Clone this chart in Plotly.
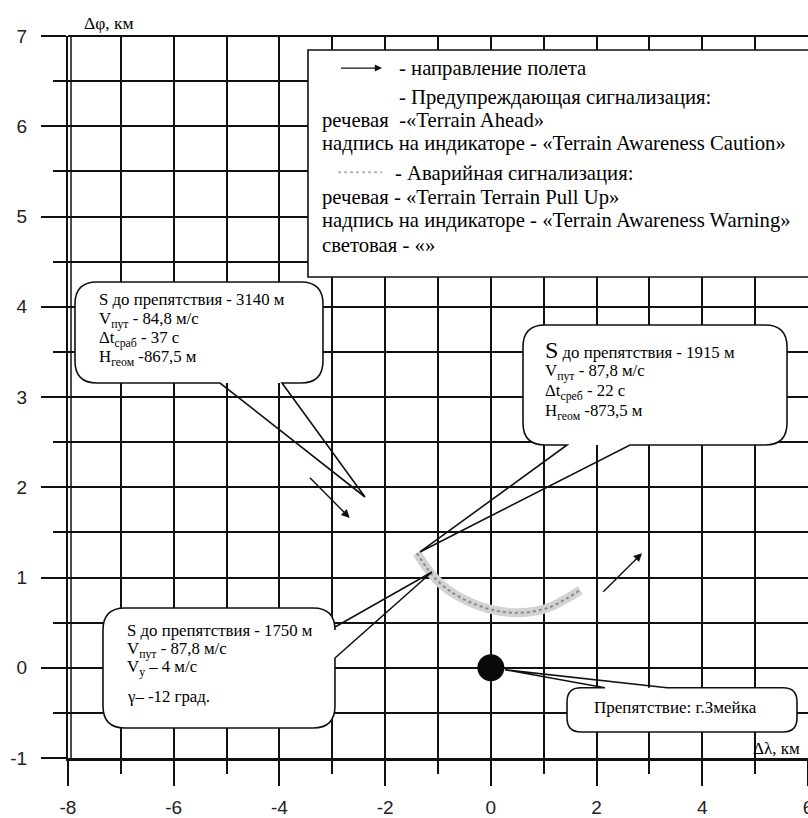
import plotly.graph_objects as go

# ---------------- data ----------------
traj_x = [-1.40, -1.02, -0.58, 0.04, 0.55, 1.06, 1.44, 1.69]
traj_y = [1.27, 0.97, 0.78, 0.64, 0.61, 0.66, 0.77, 0.86]

obstacle_x = [0.0]
obstacle_y = [0.0]

arrow_tail_x = [-3.48, 2.07]
arrow_tail_y = [2.14, 0.81]
arrow_head_x = [-2.67, 2.86]
arrow_head_y = [1.66, 1.27]

x_tick_vals = [-8, -6, -4, -2, 0, 2, 4, 6]
x_tick_text = ["-8", "-6", "-4", "-2", "0", "2", "4", "6"]
y_tick_vals = [-1, 0, 1, 2, 3, 4, 5, 6, 7]
y_tick_text = ["-1", "0", "1", "2", "3", "4", "5", "6", "7"]

callout1_lines = ["S до препятствия - 3140 м", "V<sub>пут</sub> - 84,8 м/с",
                  "Δt<sub>сраб</sub> - 37 с", "H<sub>геом</sub> -867,5 м"]
callout2_lines = ["<span style='font-size:24px'>S</span> до препятствия - 1915 м",
                  "V<sub>пут</sub> - 87,8 м/с", "Δt<sub>среб</sub> - 22 с",
                  "H<sub>геом</sub> -873,5 м"]
callout3_lines = ["S до препятствия - 1750 м", "V<sub>пут</sub> - 87,8 м/с",
                  "V<sub>у</sub> – 4 м/с", "γ– -12 град."]
obstacle_label = "Препятствие: г.Змейка"

legend_lines = [
    "- направление полета",
    "- Предупреждающая сигнализация:",
    "речевая  -«Terrain Ahead»",
    "надпись на индикаторе - «Terrain Awareness Caution»",
    "- Аварийная сигнализация:",
    "речевая - «Terrain Terrain Pull Up»",
    "надпись на индикаторе - «Terrain Awareness Warning»",
    "световая - «»",
]

# ---------------- layout constants ----------------
W, H = 808, 818
ML, MR, MT, MB = 68, 0, 36, 60
XR = [-8, 6]
YR = [-1, 7]
PXX = (W - ML - MR) / (XR[1] - XR[0])
PXY = (H - MT - MB) / (YR[1] - YR[0])

SERIF = "Liberation Serif, Times New Roman, serif"
SANS = "Liberation Sans, Arial, sans-serif"
INK = "#111111"

fig = go.Figure()

# trajectory (stippled grey band)
fig.add_trace(go.Scatter(x=traj_x, y=traj_y, mode="lines",
                         line=dict(color="#d2d2d2", width=9, shape="spline"),
                         hoverinfo="skip", showlegend=False))
fig.add_trace(go.Scatter(x=traj_x, y=traj_y, mode="lines",
                         line=dict(color="#8a8a8a", width=2, shape="spline", dash="dot"),
                         hoverinfo="skip", showlegend=False))
# obstacle
fig.add_trace(go.Scatter(x=obstacle_x, y=obstacle_y, mode="markers",
                         marker=dict(color="#0a0a0a", size=27),
                         hoverinfo="skip", showlegend=False))


def rr_path(x0, x1, y0, y1, r, tail=None):
    """Rounded rectangle (data coords); optional tail = (side, a, b, tipx, tipy)."""
    rx, ry = r / PXX, r / PXY
    p = [f"M{x0+rx},{y1}"]
    if tail and tail[0] == "top":
        a, b = sorted(tail[1:3])
        p += [f"L{a},{y1}", f"L{tail[3]},{tail[4]}", f"L{b},{y1}"]
    p += [f"L{x1-rx},{y1}", f"Q{x1},{y1} {x1},{y1-ry}"]
    if tail and tail[0] == "right":
        a, b = sorted(tail[1:3], reverse=True)
        p += [f"L{x1},{a}", f"L{tail[3]},{tail[4]}", f"L{x1},{b}"]
    p += [f"L{x1},{y0+ry}", f"Q{x1},{y0} {x1-rx},{y0}"]
    if tail and tail[0] == "bottom":
        a, b = sorted(tail[1:3], reverse=True)
        p += [f"L{a},{y0}", f"L{tail[3]},{tail[4]}", f"L{b},{y0}"]
    p += [f"L{x0+rx},{y0}", f"Q{x0},{y0} {x0},{y0+ry}",
          f"L{x0},{y1-ry}", f"Q{x0},{y1} {x0+rx},{y1}", "Z"]
    return " ".join(p)


shapes = []


def bubble(x0, x1, y0, y1, r, tail):
    shapes.append(dict(type="path", xref="x", yref="y", layer="above",
                       path=rr_path(x0, x1, y0, y1, r),
                       fillcolor="white", line=dict(width=0)))
    shapes.append(dict(type="path", xref="x", yref="y", layer="above",
                       path=rr_path(x0, x1, y0, y1, r, tail),
                       fillcolor="rgba(0,0,0,0)", line=dict(color=INK, width=1.6)))


# legend box
shapes.append(dict(type="rect", xref="x", yref="y", layer="above",
                   x0=-3.46, x1=6.3, y0=4.33, y1=6.845,
                   fillcolor="white", line=dict(color=INK, width=1.6)))
# grey symbol in legend
shapes.append(dict(type="line", xref="x", yref="y", layer="above",
                   x0=-2.89, x1=-2.06, y0=5.49, y1=5.49,
                   line=dict(color="#b5b5b5", width=2, dash="dot")))

bubble(-7.868, -3.176, 3.155, 4.274, 22, ("bottom", -5.124, -3.951, -2.381, 1.892))
bubble(0.608, 5.603, 2.468, 3.798, 22, ("bottom", 1.441, 2.632, -1.341, 1.283))
bubble(-7.338, -2.949, -0.668, 0.662, 22, ("right", 0.452, 0.108, -1.114, 1.061))
bubble(1.441, 5.792, -0.712, -0.222, 14, ("top", 2.159, 3.332, 0.267, -0.022))

# top border and double left axis line
shapes.append(dict(type="line", xref="paper", yref="paper", x0=0, x1=1, y0=1, y1=1,
                   line=dict(color=INK, width=2)))
shapes.append(dict(type="line", xref="x", yref="paper", xsizemode="pixel", xanchor=-8,
                   x0=3, x1=3, y0=0, y1=1, line=dict(color=INK, width=1.5)))

annotations = []


def txt(x, y, s, size, xanchor="left", xref="x", yref="y"):
    annotations.append(dict(x=x, y=y, xref=xref, yref=yref, text=s, showarrow=False,
                            xanchor=xanchor, yanchor="middle", align="left",
                            font=dict(family=SERIF, size=size, color="#000")))


# callout texts
for s, yy in zip(callout1_lines, [4.075, 3.853, 3.643, 3.432]):
    txt(-7.451, yy, s, 16.8)
for s, yy in zip(callout2_lines, [3.521, 3.277, 3.055, 2.834]):
    txt(0.987, yy, s, 16.8)
for s, yy in zip(callout3_lines, [0.418, 0.197, -0.003, -0.324]):
    txt(-6.922, yy, s, 16.8)
txt(3.50, -0.435, obstacle_label, 17, xanchor="center")

# legend texts
leg_x = [-1.776, -1.776, -3.232, -3.232, -1.85, -3.232, -3.232, -3.232]
leg_y = [6.645, 6.324, 6.069, 5.814, 5.482, 5.216, 4.961, 4.684]
for s, xx, yy in zip(legend_lines, leg_x, leg_y):
    txt(xx, yy, s, 20.7)

# legend arrow
annotations.append(dict(x=-2.06, y=6.645, ax=-2.892, ay=6.645, xref="x", yref="y",
                        axref="x", ayref="y", showarrow=True, arrowhead=2,
                        arrowsize=1.1, arrowwidth=1.3, arrowcolor=INK, text=" "))
# flight direction arrows
for tx, ty, hx, hy in zip(arrow_tail_x, arrow_tail_y, arrow_head_x, arrow_head_y):
    annotations.append(dict(x=hx, y=hy, ax=tx, ay=ty, xref="x", yref="y",
                            axref="x", ayref="y", showarrow=True, arrowhead=2,
                            arrowsize=1.2, arrowwidth=1.4, arrowcolor=INK, text=" "))

# axis titles
txt((82 - ML) / (W - ML - MR), 1.018, "Δφ, км", 17.5, xref="paper", yref="paper")
txt(1 - 6 / (W - ML - MR), 0.013, "Δλ, км", 17, xanchor="right", xref="paper", yref="paper")

grid = dict(showgrid=True, gridcolor=INK, gridwidth=1.5)
fig.update_layout(
    width=W, height=H,
    margin=dict(l=ML, r=MR, t=MT, b=MB, pad=0),
    paper_bgcolor="white", plot_bgcolor="white",
    template="none",
    showlegend=False,
    shapes=shapes,
    annotations=annotations,
    xaxis=dict(range=XR, tickmode="array", tickvals=x_tick_vals, ticktext=x_tick_text,
               ticks="outside", ticklen=25, tickwidth=1.5, tickcolor=INK,
               showline=True, linewidth=3, linecolor=INK, zeroline=False,
               automargin=False, ticklabelstandoff=5, ticklabeloverflow="allow",
               tickfont=dict(family=SANS, size=19, color="#222"),
               minor=dict(dtick=1, tick0=0, ticks="outside", ticklen=13, tickwidth=1.5,
                          tickcolor=INK, showgrid=True, gridcolor=INK, gridwidth=1.5),
               **grid),
    yaxis=dict(range=YR, tickmode="array", tickvals=y_tick_vals, ticktext=y_tick_text,
               ticks="outside", ticklen=25, tickwidth=1.5, tickcolor=INK,
               showline=True, linewidth=2, linecolor=INK, zeroline=False,
               automargin=False, ticklabelstandoff=10,
               tickfont=dict(family=SANS, size=19, color="#222"),
               minor=dict(dtick=0.5, tick0=0, ticks="outside", ticklen=13, tickwidth=1.5,
                          tickcolor=INK, showgrid=True, gridcolor=INK, gridwidth=1.5),
               **grid),
)

fig.write_html("out.html", config={"displayModeBar": False},
               post_script="document.body.style.margin='0';")
